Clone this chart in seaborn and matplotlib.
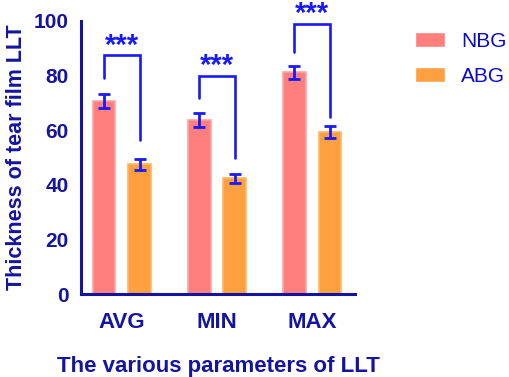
import matplotlib
matplotlib.use("Agg")
import matplotlib.pyplot as plt
import seaborn as sns
import pandas as pd
import numpy as np

categories = ["AVG", "MIN", "MAX"]
groups = ["NBG", "ABG"]
nbg_mean = [70.7, 63.8, 81.2]
abg_mean = [47.5, 42.4, 59.3]
nbg_err = [2.6, 2.5, 2.5]
abg_err = [1.9, 1.7, 2.2]
# significance brackets: (top, left leg end, right leg end)
bracket_top = [87.5, 80.0, 98.9]
bracket_left = [79.0, 72.0, 88.7]
bracket_right = [56.5, 50.0, 64.8]
sig_label = ["***", "***", "***"]

df = pd.DataFrame({
    "param": categories * 2,
    "group": [groups[0]] * 3 + [groups[1]] * 3,
    "value": nbg_mean + abg_mean,
})

sns.set_style("white")
plt.rcParams["font.family"] = ["Liberation Sans", "DejaVu Sans"]

axis_col = "#1414A0"
blue = "#1A1AF5"
colors = {"NBG": "#FF7F7F", "ABG": "#FFA040"}
edges = {"NBG": "#FFA3A3", "ABG": "#FFB866"}

fig = plt.figure(figsize=(5.10, 3.77), dpi=100)
ax = fig.add_axes([81 / 510, (377 - 294.3) / 377, (355 - 81) / 510, (294.3 - 21) / 377])

sns.barplot(data=df, x="param", y="value", hue="group", order=categories,
            hue_order=groups, palette=colors, saturation=1, width=0.75, gap=0.36,
            errorbar=None, ax=ax, legend=True)

# edge colours + error bars
for cont, g, errs, means in zip(ax.containers, groups, [nbg_err, abg_err], [nbg_mean, abg_mean]):
    xs = []
    for p in cont.patches:
        p.set_edgecolor(edges[g])
        p.set_linewidth(1.2)
        xs.append(p.get_x() + p.get_width() / 2)
    ax.errorbar(xs, means, yerr=errs, fmt="none", ecolor=blue, elinewidth=2.0,
                capsize=4.3, capthick=2.0, zorder=5)

# brackets
xs_n = [p.get_x() + p.get_width() / 2 for p in ax.containers[0].patches]
xs_a = [p.get_x() + p.get_width() / 2 for p in ax.containers[1].patches]
for xl, xr, top, yl, yr, lab in zip(xs_n, xs_a, bracket_top, bracket_left, bracket_right, sig_label):
    ax.plot([xl, xl, xr, xr], [yl, top, top, yr], color=blue, lw=1.9,
            solid_joinstyle="miter", zorder=6, clip_on=False)
    ax.text((xl + xr) / 2, top - 1.6, lab, ha="center", va="bottom", color=blue,
            fontsize=21, fontweight="bold", clip_on=False)

ax.set_ylim(0, 100)
ax.set_xlim(-0.43, 2.45)
ax.set_yticks([0, 20, 40, 60, 80, 100])
sns.despine(ax=ax)
for s in ["left", "bottom"]:
    ax.spines[s].set_color(axis_col)
    ax.spines[s].set_linewidth(2.2)
ax.tick_params(axis="both", colors=axis_col, width=2.2, length=7, direction="out")
ax.tick_params(axis="y", labelsize=15, pad=2)
ax.tick_params(axis="x", labelsize=16, pad=6)
for lbl in ax.get_xticklabels() + ax.get_yticklabels():
    lbl.set_fontweight("bold")
    lbl.set_color(axis_col)

ax.set_xlabel("The various parameters of LLT", fontsize=16, fontweight="bold",
              color=axis_col, labelpad=16)
ax.set_ylabel("Thickness of tear film LLT", fontsize=15.5, fontweight="bold",
              color=axis_col, labelpad=5)

leg = ax.legend(loc="upper left", bbox_to_anchor=(1.19, 0.99), frameon=False,
                fontsize=15, handlelength=1.4, handleheight=0.7, labelspacing=0.75,
                handletextpad=0.8, borderaxespad=0)
for t in leg.get_texts():
    t.set_color("#0A0ACC")

fig.savefig("out.png", dpi=100)
